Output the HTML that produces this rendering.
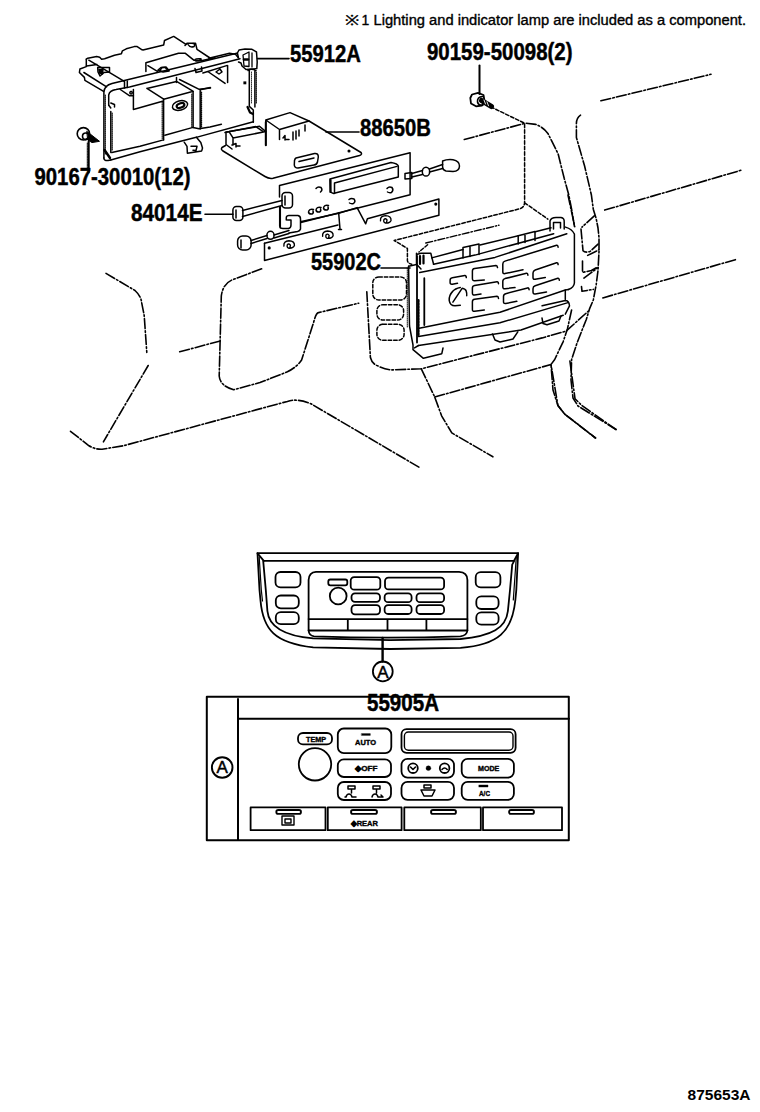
<!DOCTYPE html>
<html><head><meta charset="utf-8">
<style>
html,body{margin:0;padding:0;background:#fff;width:760px;height:1112px;overflow:hidden}
svg{display:block}
.lb{font-family:"Liberation Sans",sans-serif;font-weight:bold;font-size:23px;fill:#000;stroke:#000;stroke-width:0.45px}
.nt{font-family:"Liberation Sans",sans-serif;font-size:14px;fill:#000;stroke:#000;stroke-width:0.35px}
.sm{font-family:"Liberation Sans",sans-serif;font-weight:bold;fill:#000}
</style></head><body>
<svg width="760" height="1112" viewBox="0 0 760 1112">
<g fill="none" stroke="#000" stroke-width="1.6" stroke-linejoin="round" stroke-linecap="round">
<!-- TEXT -->
<text class="nt" x="344.5" y="25.3" textLength="14.5" lengthAdjust="spacingAndGlyphs">※</text>
<text class="nt" x="361.5" y="25.3">1</text>
<text class="nt" x="373.5" y="25.3" textLength="372.5" lengthAdjust="spacingAndGlyphs">Lighting and indicator lamp are included as a component.</text>
<text class="lb" x="290" y="61.6" textLength="71" lengthAdjust="spacingAndGlyphs">55912A</text>
<text class="lb" x="427" y="60" textLength="145.5" lengthAdjust="spacingAndGlyphs">90159-50098(2)</text>
<text class="lb" x="360" y="136" textLength="71" lengthAdjust="spacingAndGlyphs">88650B</text>
<text class="lb" x="34.5" y="185.3" textLength="156" lengthAdjust="spacingAndGlyphs">90167-30010(12)</text>
<text class="lb" x="131" y="221" textLength="71.5" lengthAdjust="spacingAndGlyphs">84014E</text>
<text class="lb" x="311" y="269.5" textLength="70" lengthAdjust="spacingAndGlyphs">55902C</text>
<text class="lb" x="367" y="710.5" textLength="72" lengthAdjust="spacingAndGlyphs">55905A</text>
<text class="sm" x="687.5" y="1099.6" font-size="14.5" textLength="63" lengthAdjust="spacingAndGlyphs" stroke="none">875653A</text>

<!-- leader lines -->
<path d="M257.5 58.6H289"/>
<path d="M479.5 65.6V94" stroke-width="2"/>
<path d="M326 132H359"/>
<path d="M205 214.2H233"/>
<path d="M381 268H410"/>

<!-- BRACKET 55912A -->
<g stroke-width="1.5">
<path d="M86.3 59.2L87.8 58.2L96.7 56.5L99.7 57.2L101.6 59.2L104.6 58.7L114.5 55.2L121.4 53.8L122.4 50.8L126.3 48.8L134.2 46.6L137.2 46.6L142.1 49.8L143 49.9L163.7 44.9L164.5 40.5L173.7 36.4L186 44.4"/>
<path d="M185 45.5L187 43.2H195.5L197 49.4L210 58"/>
<path d="M188 44.5Q190 48 194 46.5Q196 44 193 43.5"/>
<path d="M86.3 59.2V66.6L79.9 69L79.4 72.5L84.4 77.4L84.9 80.4L103.6 91.3"/>
<path d="M83.9 72.5L106.6 86.8M88.8 60.2L124.3 81.4M86.5 66L97 64.5"/>
<path d="M97.7 67.6L109.5 67.6V72L104 72.5L100 76L98 72Z"/>
<path d="M99 69.5L103 69.5L102.5 74L99.5 73Z" fill="#000"/>
<path d="M145.9 71.6V62.7L178.5 53.3H185.4L193.8 60.2L201.2 60.7L215 57.8"/>
<path d="M147.9 65.7L157.8 71.6M158 70L161 67.5L165 67.5L169 71L163 72Z"/>
<path d="M195 59.5Q196 58.5 201 58.8Q202 60.5 196 61Z"/>
<!-- top rail -->
<path d="M103.9 157.9V92Q104.5 85.5 112 83.6L236.8 53.2"/>
<path d="M108.7 105.3V95Q109.5 90.5 116 89.5L129.5 87.1L240 58.7"/>
<path d="M208.8 58.2L229.5 53.3L235.5 54.2L238.4 57.7"/>
<path d="M124.5 81.5V88M127.3 81V87.5"/>
<path d="M195 68.5L196 72.5L202 71L201.5 67"/>
<path d="M159.5 71L162 67.5L166 66.9L169 70.5"/>
<!-- triangle clip right -->
<path d="M202.9 73L226.6 65.6M207.8 71.5L225.1 83.4M227.6 65.6V82.4M216 72L220 69L222 72L219 74Z"/>
<!-- left post -->
<path d="M103.9 157.9Q104 161 108 160.5L110.8 160"/>
<path d="M110.8 111.6V152.6M108.7 105.3L110.8 108M110.8 103L114.5 104.5V107"/>
<path d="M104.5 150L110 158" stroke-width="2.5"/>
<!-- connector boxes -->
<path d="M120.3 89.5L129.7 95.8L133.4 95.8M131 91.5a1.2 1.2 0 1 0 .1 0"/>
<path d="M133.4 89.5V109.5L163.4 101"/>
<path d="M146.9 88.4L176.5 81.4L193.3 91.3L163.7 99.2L146.9 88.4"/>
<path d="M163.6 99V139.9M176.5 77.5V82.4M179.5 79.5L199.2 89.3L210.6 87.9"/>
<path d="M193.1 92.2V127.4M200.2 89.8V128.9M200.2 89.8L210.3 87.4"/>
<ellipse cx="180" cy="105.5" rx="7.8" ry="4.6" transform="rotate(-15 180 105.5)"/>
<ellipse cx="180.5" cy="105.5" rx="4" ry="2.2" stroke-width="2.2" transform="rotate(-20 180.5 105.5)"/>
<!-- bottom rail + plate -->
<path d="M111.8 152.6L140 146.3L163.5 139.9"/>
<path d="M164.9 135.3L193 127.4L199 128.8L210 127L221.4 124.2"/>
<path d="M110.8 160L140 151.8L178.7 141.7L195.3 137.6L253.4 121.8"/>
<path d="M184.2 142.2L187 146.3L187.4 153.2L201.7 150.9L202.5 148L200.8 142.6L196.2 137.1M191 146.3H197L196 150.5L193 150.3"/>
<!-- right post -->
<path d="M249.3 70.5V106.4L253.3 110V122.2M254.9 70V107M248 70.5Q251 68 256 70.5"/>
<path d="M251.5 72V104" stroke-width="0.8" stroke-dasharray="1 1"/>
<path d="M247.5 107L250 112.5L253 114" stroke-width="2.2"/>
<rect x="243.4" y="81.4" width="2.9" height="2.9" fill="#000" stroke="none"/>
<!-- hatching -->
<path d="M112.2 113V150M162.2 102V138.5M191.8 94V126.5M201.6 92V127M256.3 72V104M105.3 95V155" stroke-width="1.1" stroke-dasharray="0.9 1.1"/>
<!-- top clip -->
<path d="M238.4 57.7L237.4 53L239 50L245 49L252 49.3L256.5 52L257.2 62L256.8 68.6L246 69.5L242 66L241 63L238.5 62"/>
<path d="M243 55L249 52V66.5L244 66Z M252 53V67" stroke-width="1.3"/>
<path d="M244 59.5H248" stroke-width="2.5"/>
</g>

<!-- BOARD 88650B -->
<g stroke-width="1.5">
<path d="M225.5 145.5L222 147.5Q220.5 149.5 223 151L265 176.5Q269 179 273 178.2L359.5 155.5Q362.5 154.5 361 152.5L309 121"/>
<path d="M225 132.5L255.8 126.6L262.9 131.3"/>
<!-- left relay -->
<path d="M226 132V144.5L232 149M226 132L229 131.6L259.5 126.3L265.8 131.6L233 137.9L229 131.6M233 137.9V145M232 145L236 143.5V147M237 146H240"/>
<!-- right relay -->
<path d="M265.8 145.3V120L290 112.6L309 121L279.5 129.5L265.8 120M279.5 129.5V139.5M283 138L285 135.5V140M286 139.5H289M293 132V140M296 131V139M299 130V136M305 125V131"/>
<path d="M265.8 122V145.3" stroke-width="2"/>
<!-- chip -->
<path d="M296 158L314.5 153.5Q318.5 153 318.3 157L317.5 162Q317 164.5 314 165L298 168Q294.5 168 294.3 165L294.5 160.5Q295 158.5 296 158Z"/>
<path d="M299 161.5L314 158"/>
<circle cx="349" cy="151" r="0.8" fill="#000"/>
</g>

<!-- PLATES + SOCKETS 84014E -->
<g stroke-width="1.5">
<!-- upper plate -->
<path d="M279.5 197V185.5L410.1 152.8V194.7L300.8 222.6"/>
<path d="M280.3 206.8V228"/>
<path d="M330 179L391 162.5Q397.6 163.5 398.3 166V177L333.2 193.4L330.5 192.1Z"/>
<path d="M334.5 183L397 166.4M334.5 183V193.4"/>
<path d="M330.5 180V192" stroke-width="2.2"/>
<path d="M387 188.5Q389 186 392 187.5Q394 190 391.5 192.5Q389 193 387.5 192M349 199.5Q351 198 354 199Q356 201.5 353.5 203.5Q351 204 349.5 203"/>
<path d="M316 188.5Q318 186 321 187.5Q323 190 320.5 192M313.5 209.5Q309.0 208.5 308.5 212.0Q309.0 214.5 312.0 214.0Q314.0 213.0 313.0 211.0M321.0 207.5Q316.5 206.5 316.0 210.0Q316.5 212.5 319.5 212.0Q321.5 211.0 320.5 209.0M328.5 205.5Q324.0 204.5 323.5 208.0Q324.0 210.5 327.0 210.0Q329.0 209.0 328.0 207.0"/>
<!-- lower plate -->
<path d="M264.5 243.2V260.5L438.9 215.3V199L367.4 218.7L365.7 223.8L357.1 207.6L338.7 213.2"/>
<path d="M264.5 243.2L338 225"/>
<path d="M338.7 213.2L340 229M338.5 229.5H341.5"/>
<path d="M283.9 246.1Q283.4 241.1 288.9 240.8Q294.9 241.1 294.4 245.6Q293.4 248.4 288.9 248.2Q286.4 247.6 287.4 244.6Q288.9 243.1 290.4 245.1L289.9 248.1M322.6 236.3Q322.1 231.3 327.6 231.0Q333.6 231.3 333.1 235.8Q332.1 238.6 327.6 238.4Q325.1 237.8 326.1 234.8Q327.6 233.3 329.1 235.3L328.6 238.3M380.5 220.9Q380.0 215.9 385.5 215.6Q391.5 215.9 391.0 220.4Q390.0 223.2 385.5 223.0Q383.0 222.4 384.0 219.4Q385.5 217.9 387.0 219.9L386.5 222.9" stroke-width="1.4"/>
<circle cx="269.2" cy="247.9" r="0.8" fill="#000"/>
<circle cx="435.8" cy="204.1" r="0.8" fill="#000"/>
<!-- socket top (84014E) -->
<rect x="232.9" y="206.5" width="10" height="14" rx="3.5"/>
<path d="M236 210V218"/>
<path d="M242.5 210.5L282 200.5M242.5 216.5L282 205.5"/>
<rect x="282" y="192.6" width="10.5" height="15.5" rx="3.5"/>
<path d="M285 196V205"/>
<!-- lower socket U -->
<path d="M279.7 206.7V226Q280 228.5 283 228.5H288.5Q291 228 291 225V220H287.5"/>
<path d="M286.3 220V217.5Q286.5 215.5 289 215.5H298Q300.5 216 300.5 219V229Q300 231 297.5 231.5L289 233M300.5 221.8L338.7 213.2"/>
<path d="M289 230.5L274 235M289 233.5L274 238"/>
<ellipse cx="270.5" cy="235.3" rx="3.6" ry="4" />
<path d="M267 235.5L251 240.5M267 238.5L251 243.5"/>
<rect x="237.6" y="236" width="13.5" height="14" rx="5"/>
<path d="M241 240V248"/>
<!-- right socket -->
<path d="M405 176V173.5L411.8 172.5V178.5L405 179Z"/>
<path d="M411.8 173.5L422.5 170.5M411.8 177L422.5 174.5M429.5 169L442.6 164.5M429.5 172L442.6 168.5"/>
<ellipse cx="426" cy="171.7" rx="3.7" ry="4.4"/>
<path d="M442.6 161Q447 159 453 159.7Q459.5 161 459.5 166Q459.3 171.3 453 171.6L446 171Q442.6 170 442.6 167Z"/>
</g>

<!-- PHANTOM (dash-dot) -->
<g stroke-width="1.6" stroke-dasharray="10 2.2 1.6 2.2">
<path d="M106 273.4L135 290.5Q141 296 141.6 302.4L144.2 315.5L146.8 352.4"/>
<path d="M148.2 365.5L103.4 441.8"/>
<path d="M70.5 431.3L89 445.8Q95 449.5 102.1 449.2L123.2 445.8L287.4 401.4Q296.8 398 311 403.8L420 467.8"/>
<path d="M179.7 351.8L221.8 340.5"/>
<path d="M261.6 268.8L233.2 279.5Q223 283 221.3 296L219.2 376Q220 386 233.7 389.7L260 382.6L287.4 371.8Q297 367 301.6 360L313.7 322.1Q316 313 318.4 312.6L358.7 303.2"/>
<path d="M366.8 291.7L370.4 357.5Q372 364 378 366Q385 369.5 392 369.9L421.3 368.8L542.1 337.9L566.3 331L588.4 311.1"/>
<path d="M421.3 368.8L434.7 397L441.6 415.8L451.8 432.9L492.9 456.8"/>
<path d="M434.7 397L551 364.5L557.9 405.5L564.7 414.1L595.5 438"/>
<path d="M569.9 361L575 398.7L581.8 405.5L616 429.5"/>
<path d="M600.9 100.8L711 74.3"/>
<path d="M604.7 210.1L741.6 170.1"/>
<path d="M602.8 297.9L735.6 259.6"/>
<path d="M580.5 115.1Q576 118 576.4 125L576.4 137.5L584.6 166L591.4 195L593.3 209.2L596.2 218.6L598 228L599 237.5V251.7L598 270.5L596.2 284.7L593.3 300L589.5 308.9L586.3 319.5L582.1 330L576.8 343.7L571.6 359.5L571 380L573 398L578 406L616 429.5"/>
<path d="M464.3 139.5L525.5 123.2L535.7 124.4Q543 127 547.9 133.4L558.1 153.8L564.2 178.3L568.8 195L571.6 209.2L574.4 226.2"/>
<path d="M568 195L574.7 226.6"/>
<path d="M571.6 310L569.5 319.5L567.4 329L563.2 341.6L554.7 359.5L551 364.5L553 390L557.9 405.5L564.7 414.1L595.5 438"/>
<path d="M594.3 215.8L582 227.1M581 229L583 250.7Q585 253 590 251.5L598 244.1M587.7 255.4L599 249.8M582.5 261.1V272.4L591.4 270.5L598 266.8M583.9 278.1L598 267.7M581.5 286.6L582 291.3L593.3 289.4"/>
</g>
<g stroke-width="1.5" stroke-dasharray="3.5 2">
<path d="M490.8 106.9L524.6 123.2V202.8Q524 208 519.3 208.9L394.2 240.5L407.4 248.4V260.7Q408 263.5 411.7 264.3"/>
<path d="M524.6 202.8L547.9 219.1"/>
<path d="M427.6 244.7L419 252"/>
<rect x="372.8" y="276.9" width="33.7" height="23.1" rx="6"/>
<rect x="376.9" y="304.7" width="26.7" height="15.4" rx="6"/>
<rect x="376.9" y="324.3" width="27.2" height="16" rx="6"/>
</g>
<path d="M425.8 243L499 225.2" stroke-width="1.4" stroke-dasharray="7 2 1.5 2"/>

<!-- SCREW 90159 -->
<g stroke-width="1.8">
<path d="M472 94.5L478 92.9L483.5 95L484.5 101L482 105.5L476 106.3L471 103.5L470.3 98Z"/>
<path d="M482.5 96.5Q477 97 477.5 102Q478.5 106 483 105" stroke-width="1.6"/>
<path d="M481.5 100.5L491.5 106.5" stroke-width="5"/>
<path d="M484 100L485.5 104M487 101.8L488.5 105.8" stroke="#fff" stroke-width="0.9"/>
</g>

<!-- HEATER CONTROL 55902C -->
<g stroke-width="1.5">
<!-- left side -->
<path d="M408.6 266.3L409.5 326L413 345V349.7L423.4 358.3L441.8 353.7L443 348"/>
<path d="M407.3 268V328" stroke-width="0.9" stroke-dasharray="1 1"/>
<path d="M417 256V342.6M424.3 278.2V325" stroke-width="1.8"/>
<path d="M418.5 300V335" stroke-width="2.2" stroke-dasharray="2 1"/>
<path d="M408.6 266.3L416.5 264.5M416.5 253.3V264.3M416.5 254.5L421 253.3H428L430.8 253.3L433.6 264.3"/>
<path d="M420 256V264M423.5 255.5V263.5" stroke-width="2.2"/>
<path d="M416.5 264.3L421 269"/>
<!-- rim -->
<path d="M431.7 257.9L463 249.5M480 244.9L518.2 235.7M535.3 231.7L551 227.8"/>
<path d="M463 247.5V258M470 246V256.5M479 244V254.5M463 247.5L479 244"/>
<path d="M518.2 235.7V244M525 234V242.5M535 231.5V240.5M518.2 235.7L535 231.5"/>
<path d="M433.6 264.3L475 255.1L553.7 233.7"/>
<path d="M419.7 272.6L426.2 271.2L475 261.6L495 257.4L566.8 233.7"/>
<!-- clip top right -->
<path d="M550 231V221Q551 217.5 556 217.5H561Q564.5 218 564.2 222V229"/>
<path d="M553.5 229V222.5H560.5V228"/>
<path d="M565.5 227.1Q572 229 574.4 234V283Q574 287.5 568.4 289.5"/>
<!-- face bottom + ledges -->
<path d="M418 328.5L475 317L500 312.3L565.3 290L568.4 289.5"/>
<path d="M565.3 290V299.5M542.1 305.8L565.3 300.5Q569 300.5 569.5 305.8L565.3 314.2"/>
<path d="M418.5 336.5L500 322.8L568 302.6"/>
<path d="M418.5 345.5L521 330L563.2 315.3"/>
<path d="M492.5 334L495 340L500 342L513 339L517.8 331.8M542 318L543 323.5L547 324.7L559 321L561 316"/>
<path d="M414.5 347.9L418.5 345.5"/>
<!-- knob -->
<path d="M460.3 287.4Q455 288.5 452.9 291.1Q449 295 449.2 300.3Q450 305.8 455 305.8L460.3 305.3M452.9 302.1L462.1 288.3Q465.5 289 466.2 291Q467 293.5 466.7 295.7"/>
<path d="M497.5 267.6Q497.3 265.4 496.0 265.5L474.6 268.5Q472.4 268.8 472.4 271.0L472.4 278.6Q472.4 280.8 474.6 280.7L484.3 280.0M498.5 283.8Q498.3 281.6 497.0 281.8L474.6 285.5Q472.4 285.9 472.4 288.1L472.4 293.1Q472.4 295.3 474.6 295.0L481.0 294.0M498.5 298.4Q498.3 296.2 497.0 296.3L474.6 299.3Q472.4 299.6 472.4 301.8L472.4 309.4Q472.4 311.6 474.6 311.3L484.3 309.9M558.1 247.2Q557.9 245.0 556.6 245.3L505.0 261.1Q502.8 261.8 502.8 264.0L502.8 271.9Q502.8 274.1 505.0 273.6L523.0 269.7M527.9 275.2Q527.7 273.0 526.4 273.3L505.0 278.6Q502.8 279.2 502.8 281.4L502.8 286.8Q502.8 289.0 505.0 288.7L515.0 287.6M529.1 289.8Q528.9 287.6 527.6 287.9L505.7 293.7Q503.5 294.3 503.5 296.5L503.5 301.7Q503.5 303.9 505.7 303.5L516.8 301.3M558.1 264.6Q557.9 262.4 556.6 262.7L535.2 270.0Q533.0 270.8 533.0 273.0L533.0 277.5Q533.0 279.7 535.2 279.3L545.3 277.5M559.3 280.2Q559.1 278.0 557.8 278.3L535.2 285.8Q533.0 286.5 533.0 288.7L533.0 292.1Q533.0 294.3 535.2 293.9L546.5 292.0M466.3 277.6Q466.1 275.4 464.8 275.6L452.3 277.8Q450.1 278.2 450.1 280.4L450.1 282.4Q450.1 284.6 452.3 284.2L457.5 283.2"/>
</g>

<!-- screw 90167 -->
<g stroke-width="1.6">
<circle cx="83.4" cy="133.8" r="6.2"/>
<circle cx="85.8" cy="136.3" r="3.3"/>
<path d="M87 131.5L99.5 141.3L92 142.6L88 140Z" fill="#000" stroke-width="1"/>
<path d="M88.7 141V172.6" stroke-width="2"/>
<path d="M87.3 143V168" stroke-width="1" stroke-dasharray="0.8 0.8"/>
</g>

<!-- LOWER PANEL -->
<g stroke-width="1.8">
<path d="M257.5 553.2H518.1L516.3 590L515.3 600.5C512 632 498 645 460.5 647.9L390 649L313.2 647.4C275 643 263 630 260.5 600.5L259.5 590L257.5 553.2Z"/>
<path d="M259.2 557L261.3 590L262.5 601" stroke-width="1.2"/>
<path d="M516.3 557L514 590L513.3 600" stroke-width="1.2"/>
<path d="M263.2 560.8H514.2L512.2 564.7L510 590L507.9 611C506 628 492 636 460.5 639L390 640.2L313.2 638.4C285 636 269 628 267.4 611L265.8 590Z"/>
<path d="M257.5 553.3L263.8 560.8M518.1 553.3L514.2 560.4"/>
<path d="M308.6 619.1V580Q309 572 316 571.8H459Q467.4 572 467.4 580V619.1"/>
<path d="M308.6 619.1H467.4M308.6 619.1V630.5H467.4V619.1M347.8 619.1V630.5M387.5 619.1V630.5M426.4 619.1V630.5"/>
<path d="M308.6 630.5Q309 635.5 314 636.3Q388 639 460.5 636.3Q466.8 635.5 467.4 630.5"/>
<rect x="275.5" y="572" width="25" height="15.4" rx="5"/>
<rect x="275.8" y="595.5" width="23" height="12.8" rx="5"/>
<rect x="275.8" y="612.2" width="23" height="12" rx="5"/>
<rect x="475.7" y="572.2" width="24.7" height="15.2" rx="5"/>
<rect x="476.3" y="596.4" width="22.3" height="12.6" rx="5"/>
<rect x="476.3" y="612.3" width="22.3" height="12.4" rx="5"/>
<rect x="328.3" y="579.5" width="19" height="5.8" rx="2"/>
<ellipse cx="338.2" cy="596" rx="8.4" ry="8.4"/>
<rect x="350.7" y="577.1" width="29.6" height="12.6" rx="3.5"/>
<rect x="385" y="577.6" width="59.1" height="11.8" rx="3.5"/>
<rect x="351.5" y="593.3" width="28.5" height="8.5" rx="3.5"/>
<rect x="384.6" y="593.4" width="27" height="8.8" rx="3.5"/>
<rect x="416.5" y="593.4" width="27.6" height="8.8" rx="3.5"/>
<rect x="351.5" y="605.1" width="28.5" height="9.2" rx="3.5"/>
<rect x="384.6" y="605.2" width="27" height="8.8" rx="3.5"/>
<rect x="416.5" y="605.2" width="27.6" height="8.8" rx="3.5"/>
<path d="M382.6 638V661.6" stroke-width="2.4"/>
<circle cx="382.8" cy="671.4" r="9.9"/>
</g>
<text x="382.8" y="677.8" font-family="Liberation Sans" font-size="17" text-anchor="middle" fill="#000" stroke="#000" stroke-width="0.5">A</text>

<!-- TABLE -->
<g stroke-width="2">
<rect x="206.8" y="696.7" width="362" height="143.5"/>
<path d="M238 699V840M238 718.8H569"/>
</g>
<circle cx="222.2" cy="767.5" r="10.3" stroke-width="1.9"/>
<text x="222.2" y="773.4" font-family="Liberation Sans" font-size="17" text-anchor="middle" fill="#000" stroke="#000" stroke-width="0.5">A</text>
<g stroke-width="1.8">
<rect x="298" y="733" width="34" height="11.4" rx="5"/>
<ellipse cx="315" cy="764.3" rx="16.2" ry="16.2"/>
<rect x="337.8" y="728.5" width="53.5" height="24.6" rx="6"/>
<rect x="337.8" y="759.3" width="53.2" height="17.7" rx="6"/>
<rect x="337.8" y="782" width="53.2" height="18" rx="6"/>
<rect x="401.5" y="729.2" width="114.1" height="23.6" rx="5"/>
<rect x="404.4" y="732" width="108.6" height="18.2" rx="4" stroke-width="1.4"/>
<rect x="401.5" y="758.8" width="52.5" height="18.8" rx="6"/>
<rect x="461.7" y="758.8" width="52.2" height="18.8" rx="6"/>
<rect x="401.5" y="781.9" width="52.5" height="17.9" rx="6"/>
<rect x="461.7" y="781.9" width="52.2" height="17.9" rx="6"/>
<rect x="250.6" y="807.4" width="74.9" height="22.8"/>
<rect x="327.8" y="807.4" width="73.8" height="22.8"/>
<rect x="404.3" y="807.4" width="76.5" height="22.8"/>
<rect x="483" y="807.4" width="79" height="22.8"/>
<rect x="276.3" y="810" width="24.7" height="3.9" rx="2"/>
<rect x="351" y="810" width="26" height="3.9" rx="2"/>
<rect x="431" y="810" width="25" height="3.9" rx="2"/>
<rect x="509" y="810" width="25" height="3.9" rx="2"/>
<circle cx="413" cy="768.2" r="4.8"/>
<circle cx="444.6" cy="768.2" r="4.8"/>
</g>
<g fill="#000" stroke="#000" stroke-width="0.4" font-family="Liberation Sans" font-weight="bold">
<text x="306" y="741.5" font-size="7.5" textLength="20" lengthAdjust="spacingAndGlyphs">TEMP</text>
<rect x="361.6" y="733.6" width="8.7" height="1.8"/>
<text x="355" y="744.6" font-size="7.5" textLength="21" lengthAdjust="spacingAndGlyphs">AUTO</text>
<text x="355" y="771.2" font-size="8" textLength="22.5" lengthAdjust="spacingAndGlyphs">◆OFF</text>
<text x="478" y="771" font-size="7.5" textLength="21.3" lengthAdjust="spacingAndGlyphs">MODE</text>
<rect x="479" y="785" width="9" height="2"/>
<text x="479" y="796" font-size="8" textLength="11" lengthAdjust="spacingAndGlyphs">A/C</text>
<circle cx="428.4" cy="768.2" r="2.4"/>
<text x="351" y="826" font-size="8" textLength="27" lengthAdjust="spacingAndGlyphs">◆REAR</text>
</g>
<g stroke-width="1.6">
<path d="M410.5 767l2.5 2.5 2.5-2.5M442 769.5q2.6-3 5.2 0"/>
<path d="M282 816h12v9h-12z M285 819h6v4h-6z" stroke-width="1.4"/>
<!-- fan icons -->
<path d="M348 786h7v3h-7zM351.5 789v4M346 797c1-4 5-4 6 0h4M346 797h-1" stroke-width="1.5"/>
<path d="M373 786h7v3h-7zM376.5 789v4M372 797c1-4 5-4 6 0h5l-2 -2" stroke-width="1.5"/>
<!-- defrost -->
<path d="M424 785h7v3h-7zM421 790h14l-3 6h-8z" stroke-width="1.5"/>
</g>

</g>
</svg>
</body></html>
